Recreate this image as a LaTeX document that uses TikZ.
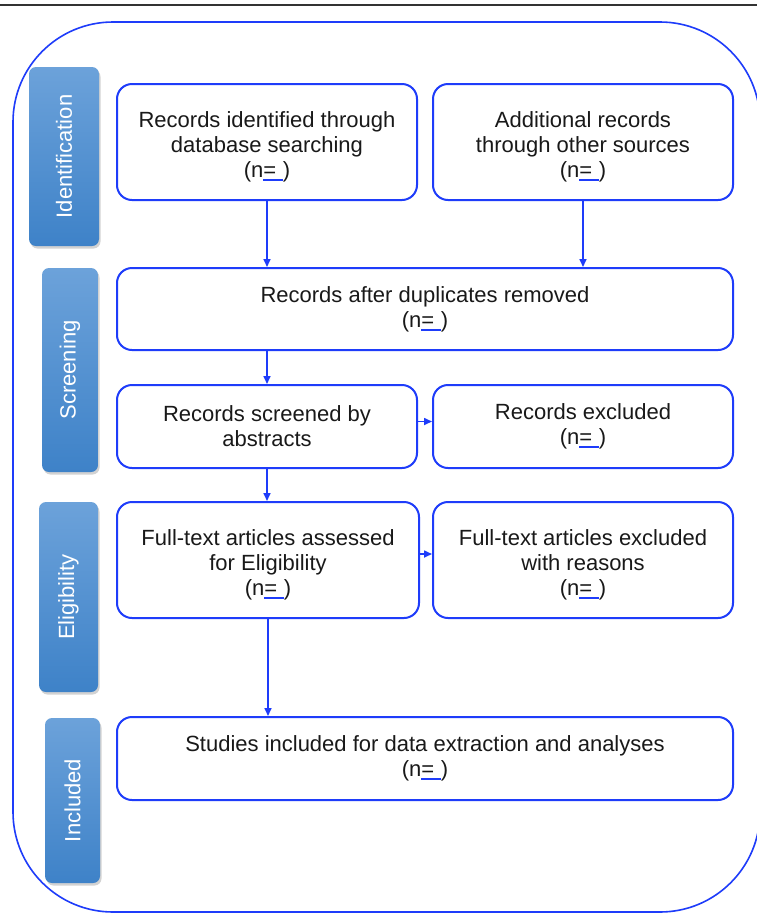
\documentclass[tikz,border=0pt]{standalone}
\usepackage{fontspec}
\setmainfont{Liberation Sans}
\usetikzlibrary{shadows,arrows.meta}
\definecolor{lineblue}{RGB}{30,60,250}
\definecolor{sidetop}{RGB}{108,162,218}
\definecolor{sidebot}{RGB}{62,130,200}
\newcommand{\ulbox}[1]{\setbox0\hbox{#1}\rlap{\copy0}\smash{\textcolor{lineblue}{\rule[-0.15em]{\wd0}{0.07em}}}\llap{\smash{\textcolor{lineblue}{\rule[-0.32em]{\wd0}{0.07em}}}}}
\newcommand{\nblank}{(n\ulbox{=\hspace{0.3em}})}
\newcommand{\tstrut}{\rule{0pt}{25pt}}
\begin{document}
\begin{tikzpicture}[x=1pt,y=-1pt,
  flowbox/.style={draw=lineblue, line width=2pt, rounded corners=15pt, align=center,
    font=\fontsize{22}{25}\selectfont, text=black!90, inner sep=0pt},
  sidebox/.style={rounded corners=7pt, top color=sidetop, bottom color=sidebot,
    drop shadow={shadow xshift=1.5pt, shadow yshift=-2.5pt, opacity=0.35}, inner sep=0pt},
  sidetext/.style={rotate=90, text=white, font=\fontsize{22}{25}\selectfont},
  arr/.style={draw=lineblue, line width=1.6pt, -{Triangle[length=8pt,width=7pt]}}
]
\useasboundingbox (0,0) rectangle (757,914);
\fill[white] (0,0) rectangle (757,914);
\draw[black!80, line width=1.5pt] (0,5) -- (757,5);
\draw[lineblue, line width=1.6pt, rounded corners=100pt] (13,22) rectangle (760,912);

% side labels
\node[sidebox, minimum width=70pt, minimum height=179pt] (sid1) at (64,156.5) {};
\node[sidetext] (t1) at (sid1) {Identification};
\node[sidebox, minimum width=56pt, minimum height=204pt] (sid2) at (70,370) {};
\node[sidetext] (t2) at (sid2) {Screening};
\node[sidebox, minimum width=59pt, minimum height=190pt] (sid3) at (68.5,597) {};
\node[sidetext] (t3) at (sid3) {Eligibility};
\node[sidebox, minimum width=55pt, minimum height=165pt] (sid4) at (72.5,800.5) {};
\node[sidetext] (t4) at (sid4) {Included};

% flow boxes
\node[flowbox, minimum width=300pt, minimum height=116pt] (b1) at (267,142)
  {\tstrut Records identified through\\database searching\\\nblank};
\node[flowbox, minimum width=300pt, minimum height=116pt] (b2) at (583,142)
  {\tstrut Additional records\\through other sources\\\nblank};
\node[flowbox, minimum width=616pt, minimum height=82pt] (b3) at (425,309)
  {Records after duplicates removed\\\nblank};
\node[flowbox, minimum width=300pt, minimum height=83pt] (b4) at (267,426.5)
  {Records screened by\\abstracts};
\node[flowbox, minimum width=300pt, minimum height=83pt] (b5) at (583,426.5)
  {Records excluded\\\nblank};
\node[flowbox, minimum width=302pt, minimum height=116pt] (b6) at (268,560)
  {\tstrut Full-text articles assessed\\for Eligibility\\\nblank};
\node[flowbox, minimum width=300pt, minimum height=116pt] (b7) at (583,560)
  {\tstrut Full-text articles excluded\\with reasons\\\nblank};
\node[flowbox, minimum width=616pt, minimum height=83pt] (b8) at (425,758.5)
  {Studies included for data extraction and analyses\\\nblank};

% connectors
\draw[arr] (b1.south) -- (b1.south |- b3.north);
\draw[arr] (b2.south) -- (b2.south |- b3.north);
\draw[arr] (b3.south -| b4.north) -- (b4.north);
\draw[arr] ([yshift=5pt]b4.east) -- ([yshift=5pt]b4.east -| b5.west);
\draw[arr] (b4.south) -- (b4.south |- b6.north);
\draw[arr] ([yshift=6pt]b6.east) -- ([yshift=6pt]b6.east -| b7.west);
\draw[arr] (b6.south) -- (b6.south |- b8.north);
\end{tikzpicture}
\end{document}
